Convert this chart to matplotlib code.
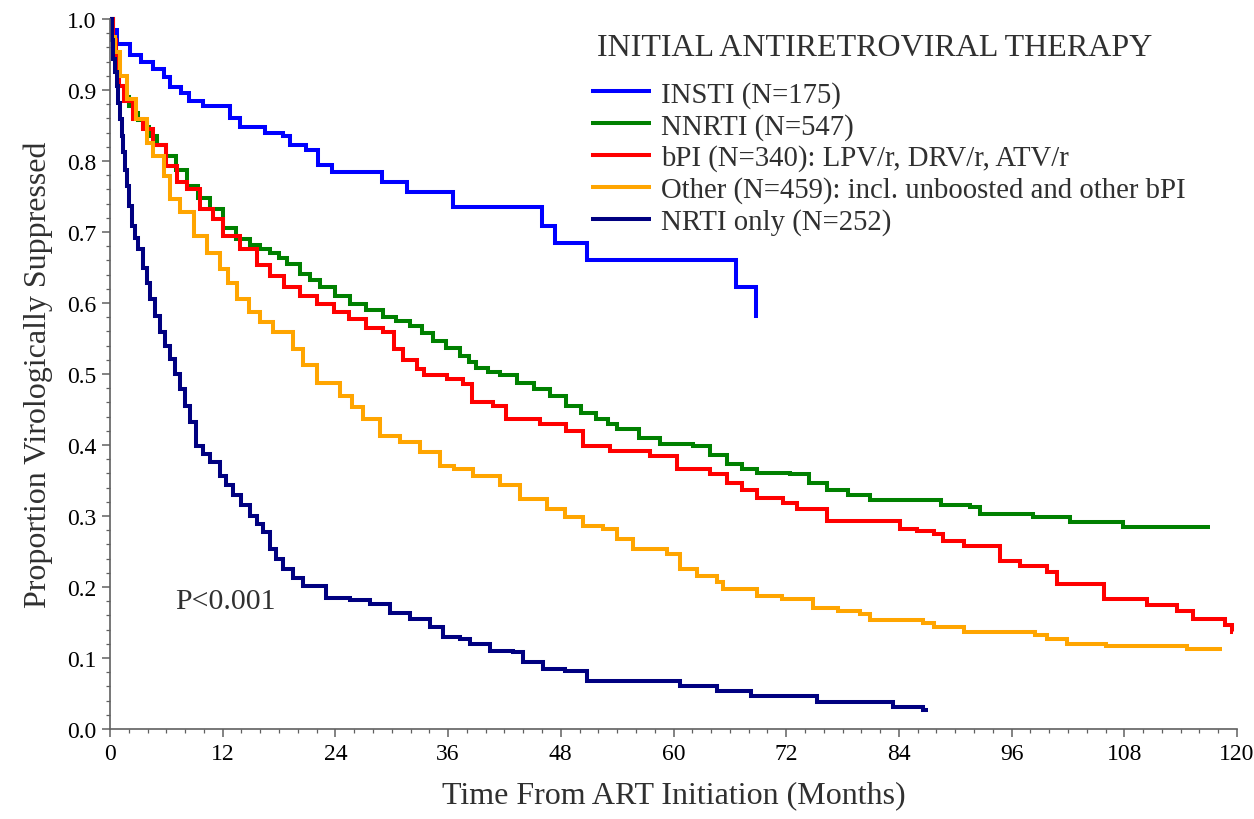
import numpy as np
import matplotlib
matplotlib.use("Agg")
import matplotlib.pyplot as plt
from matplotlib.ticker import MultipleLocator

plt.rcParams['font.family'] = ['Liberation Serif', 'DejaVu Serif']

# Kaplan-Meier step points (time in months, proportion suppressed)
insti_t = [0, 0.3, 0.7, 2.1, 3.3, 4.6, 5.7, 6.4, 7.6, 8.4, 9.9, 12.8, 13.8, 16.5, 18.4,
           19.2, 20.9, 22.2, 23.6, 29.0, 31.6, 36.5, 46.0, 47.4, 50.8, 66.7, 68.8, 69.0]
insti_s = [1.0, 0.985, 0.965, 0.95, 0.94, 0.93, 0.918, 0.904, 0.896, 0.885, 0.878, 0.86, 0.848,
           0.84, 0.835, 0.822, 0.815, 0.795, 0.784, 0.770, 0.757, 0.735, 0.709, 0.684, 0.661,
           0.622, 0.582, 0.582]

nnrti_t = [0, 0.3, 0.6, 1.0, 1.5, 2.0, 2.5, 3.0, 3.5, 4.2, 5.0, 6.0, 7.0, 8.2, 9.4, 10.6,
           12.0, 13.4, 14.9, 16.0, 17.0, 18.0, 18.8, 20.2, 21.3, 22.4, 24.0, 25.6, 27.3, 29.1,
           30.5, 31.9, 33.2, 34.4, 35.8, 37.3, 38.2, 39.0, 40.3, 41.5, 43.3, 45.1, 46.9, 48.6,
           50.2, 51.8, 53.0, 54.0, 56.3, 58.6, 62.1, 63.9, 65.7, 67.3, 68.9, 72.4, 74.4, 76.3,
           78.6, 80.9, 88.5, 91.6, 92.6, 98.3, 102.2, 107.9, 117.1]
nnrti_s = [1.0, 0.97, 0.94, 0.905, 0.89, 0.878, 0.868, 0.858, 0.848, 0.835, 0.822, 0.807,
           0.787, 0.765, 0.748, 0.732, 0.706, 0.69, 0.681, 0.676, 0.671, 0.663, 0.655, 0.641,
           0.632, 0.622, 0.61, 0.599, 0.59, 0.58, 0.574, 0.568, 0.558, 0.547, 0.537, 0.526,
           0.517, 0.509, 0.503, 0.498, 0.488, 0.479, 0.469, 0.455, 0.445, 0.436, 0.43, 0.423,
           0.41, 0.401, 0.399, 0.386, 0.373, 0.366, 0.361, 0.359, 0.347, 0.336, 0.329, 0.322,
           0.315, 0.312, 0.303, 0.298, 0.292, 0.285, 0.285]

bpi_t = [0, 0.3, 0.6, 1.0, 1.5, 2.5, 3.5, 4.6, 6.0, 7.1, 8.2, 9.6, 11.0, 12.0, 13.8, 15.6,
         17.0, 18.5, 20.2, 22.0, 23.8, 25.5, 27.3, 29.1, 30.2, 31.2, 32.7, 33.4, 35.9, 37.6,
         38.5, 40.8, 42.2, 45.8, 48.6, 50.4, 53.2, 57.5, 60.4, 63.9, 65.7, 67.3, 68.9, 71.7,
         73.1, 76.3, 84.1, 85.9, 87.7, 88.7, 90.9, 94.8, 96.9, 99.8, 100.8, 105.8, 110.4,
         113.6, 115.3, 118.7, 119.5, 119.6]
bpi_s = [1.0, 0.97, 0.94, 0.905, 0.885, 0.859, 0.845, 0.822, 0.793, 0.77, 0.761, 0.732, 0.718,
         0.695, 0.676, 0.653, 0.638, 0.622, 0.61, 0.598, 0.587, 0.577, 0.565, 0.559, 0.535,
         0.52, 0.507, 0.498, 0.493, 0.486, 0.46, 0.455, 0.437, 0.43, 0.42, 0.399, 0.392, 0.385,
         0.366, 0.359, 0.347, 0.336, 0.326, 0.319, 0.31, 0.293, 0.282, 0.279, 0.275, 0.265,
         0.258, 0.237, 0.23, 0.221, 0.204, 0.183, 0.175, 0.166, 0.155, 0.146, 0.136, 0.136]

other_t = [0, 0.2, 0.5, 1.06, 1.8, 2.8, 3.9, 4.6, 5.7, 6.4, 7.5, 8.9, 10.3, 11.7, 12.6, 13.5,
           14.8, 16.0, 17.4, 19.5, 20.6, 22.0, 24.5, 25.8, 26.9, 28.8, 30.9, 33.0, 35.1, 36.6,
           38.7, 41.5, 43.7, 46.5, 48.5, 50.4, 52.5, 54.0, 55.7, 59.3, 60.7, 62.5, 64.6, 65.3,
           68.9, 71.5, 74.9, 77.5, 79.9, 80.9, 86.6, 87.7, 90.9, 98.5, 99.8, 101.9, 106.1,
           114.7, 118.4]
other_s = [1.0, 0.975, 0.953, 0.92, 0.887, 0.859, 0.826, 0.807, 0.779, 0.746, 0.728, 0.695,
           0.671, 0.648, 0.628, 0.606, 0.588, 0.573, 0.559, 0.535, 0.512, 0.488, 0.469, 0.453,
           0.437, 0.413, 0.404, 0.39, 0.371, 0.366, 0.357, 0.343, 0.324, 0.31, 0.298, 0.286,
           0.282, 0.268, 0.254, 0.246, 0.225, 0.215, 0.207, 0.197, 0.188, 0.183, 0.171, 0.166,
           0.162, 0.153, 0.15, 0.143, 0.137, 0.132, 0.127, 0.12, 0.117, 0.113, 0.113]

nrti_t = [0, 0.2, 0.35, 0.5, 0.7, 0.9, 1.06, 1.25, 1.4, 1.6, 1.8, 2.05, 2.3, 2.65, 3.0, 3.5,
          3.9, 4.26, 4.8, 5.3, 5.85, 6.4, 6.95, 7.5, 8.0, 8.5, 9.2, 9.9, 10.6, 11.7, 12.4, 13.1,
          14.0, 14.9, 15.6, 16.3, 17.0, 17.7, 18.4, 19.5, 20.6, 23.0, 25.6, 27.7, 29.8, 31.9,
          34.1, 35.5, 37.3, 38.3, 40.5, 42.9, 44.0, 46.1, 48.5, 50.8, 60.7, 64.6, 68.2, 75.3,
          83.4, 86.6, 87.1]
nrti_s = [1.0, 0.97, 0.944, 0.925, 0.906, 0.882, 0.859, 0.835, 0.812, 0.788, 0.765, 0.737,
          0.709, 0.692, 0.676, 0.65, 0.628, 0.606, 0.582, 0.559, 0.54, 0.521, 0.5, 0.479,
          0.455, 0.432, 0.399, 0.388, 0.376, 0.357, 0.343, 0.329, 0.315, 0.3, 0.289, 0.277,
          0.254, 0.24, 0.225, 0.213, 0.202, 0.185, 0.181, 0.176, 0.164, 0.155, 0.143, 0.129,
          0.127, 0.12, 0.11, 0.108, 0.094, 0.085, 0.082, 0.068, 0.061, 0.054, 0.047, 0.038,
          0.031, 0.027, 0.027]

labels = ['INSTI (N=175)', 'NNRTI (N=547)', 'bPI (N=340): LPV/r, DRV/r, ATV/r',
          'Other (N=459): incl. unboosted and other bPI', 'NRTI only (N=252)']
colors = ['#0000ff', '#008000', '#ff0000', '#ffa500', '#000080']
x_ticks = list(range(0, 121, 12))
y_ticks = [round(v * 0.1, 1) for v in range(11)]

series = [(insti_t, insti_s), (nnrti_t, nnrti_s), (bpi_t, bpi_s),
          (other_t, other_s), (nrti_t, nrti_s)]

fig = plt.figure(figsize=(12.54, 8.2), dpi=100)
ax = fig.add_axes([110 / 1254, 90 / 820, 1127 / 1254, 710 / 820])

for (t, s), lab, col in zip(series, labels, colors):
    ax.step(t, s, where='post', color=col, lw=2.9, label=lab, clip_on=False,
            solid_joinstyle='miter', solid_capstyle='butt')

ax.set_xlim(0, 120)
ax.set_ylim(0, 1.0)
ax.set_xticks(x_ticks)
ax.set_yticks(y_ticks)
ax.set_yticklabels([f'{v:.1f}' for v in y_ticks])
ax.xaxis.set_minor_locator(MultipleLocator(2))
ax.yaxis.set_minor_locator(MultipleLocator(0.02))

for side in ['top', 'right']:
    ax.spines[side].set_visible(False)
for side in ['left', 'bottom']:
    ax.spines[side].set_color('#606060')
    ax.spines[side].set_linewidth(1.2)
ax.tick_params(which='major', direction='out', length=6, width=1.1, color='#606060',
               labelsize=17, pad=4)
ax.tick_params(which='minor', direction='out', length=3, width=0.9, color='#606060')

ax.set_xlabel('Time From ART Initiation (Months)', fontsize=23, color='#303030', labelpad=12)
ax.set_ylabel('Proportion Virologically Suppressed', fontsize=23, color='#303030', labelpad=10)

ax.text(6.9, 0.17, 'P<0.001', fontsize=21.5, color='#303030')

# legend title drawn separately so its gap to the entries can match
fig.text(597 / 1254, 1 - 48 / 820, 'INITIAL ANTIRETROVIRAL THERAPY', fontsize=23,
         color='#303030', ha='left', va='center')
leg = ax.legend(loc='upper left', bbox_to_anchor=(585 / 1254, 1 - 76 / 820),
                bbox_transform=fig.transFigure, frameon=False,
                fontsize=20.7, handlelength=2.1, handletextpad=0.35, labelspacing=0.17,
                borderaxespad=0, borderpad=0.2)
for txt in leg.get_texts():
    txt.set_color('#303030')

fig.savefig('out.png', dpi=100)
